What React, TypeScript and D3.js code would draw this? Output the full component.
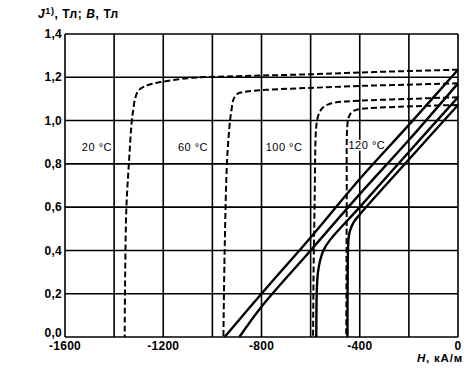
import React from "react";
import * as d3 from "d3";

// H, kA/m (x) and J / B, T (y)
const xTicks = [-1600, -1400, -1200, -1000, -800, -600, -400, -200, 0];
const xLabels = ["-1600", "", "-1200", "", "-800", "", "-400", "", "0"];
const yTicks = [0, 0.2, 0.4, 0.6, 0.8, 1.0, 1.2, 1.4];
const yLabels = ["0,0", "0,2", "0,4", "0,6", "0,8", "1,0", "1,2", "1,4"];

const temps = ["20 °C", "60 °C", "100 °C", "120 °C"];
const tempLabelPos = [
  [-1470, 0.878],
  [-1079, 0.878],
  [-708, 0.878],
  [-371, 0.887],
];

// J curves (dashed)
const j20 = [
  [0, 1.235], [-200, 1.229], [-400, 1.222], [-600, 1.214], [-800, 1.208],
  [-1000, 1.202], [-1100, 1.196], [-1210, 1.178], [-1265, 1.163],
  [-1300, 1.14], [-1315, 1.1], [-1322, 1.05], [-1328, 1.0],
  [-1340, 0.8], [-1350, 0.6], [-1355, 0.3], [-1357, 0],
];
const j60 = [
  [0, 1.172], [-200, 1.166], [-400, 1.16], [-600, 1.151], [-780, 1.142],
  [-860, 1.134], [-900, 1.122], [-915, 1.095], [-922, 1.05], [-928, 1.0],
  [-940, 0.82], [-950, 0.4], [-955, 0],
];
const j100 = [
  [0, 1.108], [-200, 1.1], [-400, 1.092], [-500, 1.084], [-530, 1.074],
  [-550, 1.06], [-563, 1.04], [-572, 1.01], [-578, 0.96], [-584, 0.6],
  [-588, 0.3], [-590, 0],
];
const j120 = [
  [0, 1.072], [-236, 1.064], [-400, 1.053], [-425, 1.045], [-437, 1.033],
  [-446, 1.012], [-451, 0.97], [-453, 0.6], [-455, 0],
];

// B curves (solid)
const b20 = [
  [0, 1.235], [-200, 0.98], [-400, 0.73], [-600, 0.46], [-800, 0.2], [-950, 0],
];
const b60 = [
  [0, 1.172], [-200, 0.91], [-400, 0.66], [-600, 0.4], [-800, 0.14], [-890, 0],
];
const b100 = [
  [0, 1.108], [-200, 0.855], [-400, 0.6], [-520, 0.45], [-548, 0.4],
  [-562, 0.35], [-570, 0.3], [-574, 0.24], [-576, 0.15], [-577, 0],
];
const b120 = [
  [0, 1.072], [-200, 0.82], [-400, 0.566], [-425, 0.53], [-437, 0.5],
  [-444, 0.47], [-447, 0.43], [-449, 0.3], [-450, 0],
];

const jCurves = [j20, j60, j100, j120];
const bCurves = [b20, b60, b100, b120];

const App = () => {
  const left = 65, right = 458, top = 34, bottom = 337;
  const x = d3.scaleLinear().domain([-1600, 0]).range([left, right]);
  const y = d3.scaleLinear().domain([0, 1.4]).range([bottom, top]);

  const line = d3
    .line<number[]>()
    .x((d) => x(d[0]))
    .y((d) => y(d[1]))
    .curve(d3.curveCatmullRom.alpha(0.5));

  const font = "'Liberation Sans', Arial, sans-serif";

  return (
    <div style={{ position: "absolute", left: 0, top: 0 }}>
      <svg width={470} height={368} style={{ display: "block", background: "#fff" }}>
        {/* grid */}
        <g stroke="#000" strokeWidth={1.6}>
          {xTicks.map((t) => (
            <line key={"x" + t} x1={x(t)} x2={x(t)} y1={y(0)} y2={y(1.4)} />
          ))}
          {yTicks.map((t) => (
            <line key={"y" + t} x1={x(-1600)} x2={x(0)} y1={y(t)} y2={y(t)} />
          ))}
        </g>

        {/* tick labels */}
        <g fontFamily={font} fontSize={12} fontWeight="bold" fill="#000" letterSpacing={0.3}>
          {yTicks.map((t, i) => (
            <text
              key={"yl" + t}
              x={left - 3}
              y={y(t) - (t === 0 ? 4 : 0)}
              dy="0.35em"
              textAnchor="end"
            >
              {yLabels[i]}
            </text>
          ))}
          {xTicks.map((t, i) =>
            xLabels[i] ? (
              <text key={"xl" + t} x={x(t)} y={bottom + 13} textAnchor="middle">
                {xLabels[i]}
              </text>
            ) : null
          )}
          <text x={463} y={362} textAnchor="end" fontSize={11.5} letterSpacing={0.8}>
            <tspan fontStyle="italic">H</tspan>, кА/м
          </text>
          <text x={38} y={18} letterSpacing={0.6}>
            <tspan fontStyle="italic">J</tspan>
            <tspan fontSize={9} dy={-4}>1)</tspan>
            <tspan dy={4}>, Тл; </tspan>
            <tspan fontStyle="italic">B</tspan>, Тл
          </text>
        </g>

        {/* J curves */}
        {jCurves.map((c, i) => (
          <path
            key={"j" + i}
            d={line(c) || ""}
            fill="none"
            stroke="#000"
            strokeWidth={2}
            strokeDasharray="6,3"
          />
        ))}

        {/* B curves */}
        {bCurves.map((c, i) => (
          <path key={"b" + i} d={line(c) || ""} fill="none" stroke="#000" strokeWidth={2.4} />
        ))}

        {/* temperature labels */}
        <g fontFamily={font} fontSize={11} fill="#000" letterSpacing={0.5}>
          {temps.map((t, i) => (
            <text
              key={t}
              x={x(tempLabelPos[i][0])}
              y={y(tempLabelPos[i][1])}
              textAnchor="middle"
              dy="0.35em"
              stroke="#fff"
              strokeWidth={3}
              paintOrder="stroke"
            >
              {t}
            </text>
          ))}
        </g>
      </svg>
    </div>
  );
};

export default App;
